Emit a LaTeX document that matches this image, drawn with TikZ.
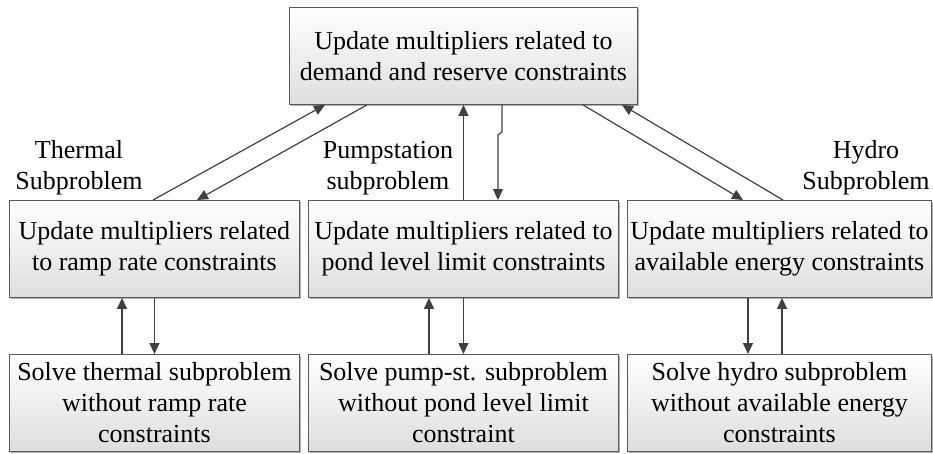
\documentclass[tikz,border=0pt]{standalone}
\usepackage{fontspec}
\setmainfont{Liberation Serif}
\usetikzlibrary{arrows.meta,shadows,calc}
\begin{document}
\begin{tikzpicture}[x=1pt,y=-1pt,
  box/.style={draw=black!65, line width=0.9pt, top color=white, bottom color=black!13,
    general shadow={fill=black!30, shadow xshift=1.5pt, shadow yshift=-1.5pt},
    anchor=north west, align=center, inner sep=0pt,
    font=\fontsize{26}{31}\selectfont},
  lbl/.style={align=center, font=\fontsize{26}{31}\selectfont, inner sep=0pt},
  arr/.style={draw=black!75, line width=1.2pt, -{Triangle[length=11pt,width=10pt]}}]
\useasboundingbox (0,0) rectangle (933,453);
\node[box, minimum width=348pt, minimum height=97pt] (T) at (289,7)
  {Update multipliers related to\\demand and reserve constraints};
\node[box, minimum width=290pt, minimum height=97pt] (L) at (9,200)
  {Update multipliers related\\to ramp rate constraints};
\node[box, minimum width=310pt, minimum height=97pt] (M) at (308,200)
  {Update multipliers related to\\pond level limit constraints};
\node[box, minimum width=304pt, minimum height=97pt] (R) at (627,200)
  {Update multipliers related to\\available energy constraints};
\node[box, minimum width=290pt, minimum height=97pt] (LB) at (9,354)
  {Solve thermal subproblem\\without ramp rate\\constraints};
\node[box, minimum width=310pt, minimum height=97pt] (MB) at (308,354)
  {Solve pump-st. subproblem\\without pond level limit\\constraint};
\node[box, minimum width=304pt, minimum height=97pt] (RB) at (627,354)
  {Solve hydro subproblem\\without available energy\\constraints};
\node[lbl] (lt) at (79,168) {Thermal\\Subproblem};
\node[lbl] (lp) at (388,168) {Pumpstation\\subproblem};
\node[lbl] (lh) at (866,168) {Hydro\\Subproblem};
% top links
\draw[arr] ([xshift=144pt]L.north west) -- ([xshift=36pt]T.south west);
\draw[arr] ([xshift=78pt]T.south west) -- ([xshift=188pt]L.north west);
\draw[arr] (M.north) -- (T.south);
\coordinate (j1) at ($([xshift=213pt]T.south west)+(0,27)$);
\coordinate (j2) at ($([xshift=209pt]T.south west)+(0,30)$);
\draw[arr] ([xshift=213pt]T.south west) -- (j1) -- (j2) -- ([xshift=190pt]M.north west);
\draw[arr] ([xshift=294pt]T.south west) -- ([xshift=116pt]R.north west);
\draw[arr] ([xshift=156pt]R.north west) -- ([xshift=333pt]T.south west);
% vertical links
\draw[arr] ([xshift=113pt]LB.north west) -- ([xshift=113pt]L.south west);
\draw[arr] (L.south) -- (LB.north);
\draw[arr] ([xshift=121pt]MB.north west) -- ([xshift=121pt]M.south west);
\draw[arr] (M.south) -- (MB.north);
\draw[arr] ([xshift=121pt]R.south west) -- ([xshift=121pt]RB.north west);
\draw[arr] ([xshift=155pt]RB.north west) -- ([xshift=155pt]R.south west);
\end{tikzpicture}
\end{document}
